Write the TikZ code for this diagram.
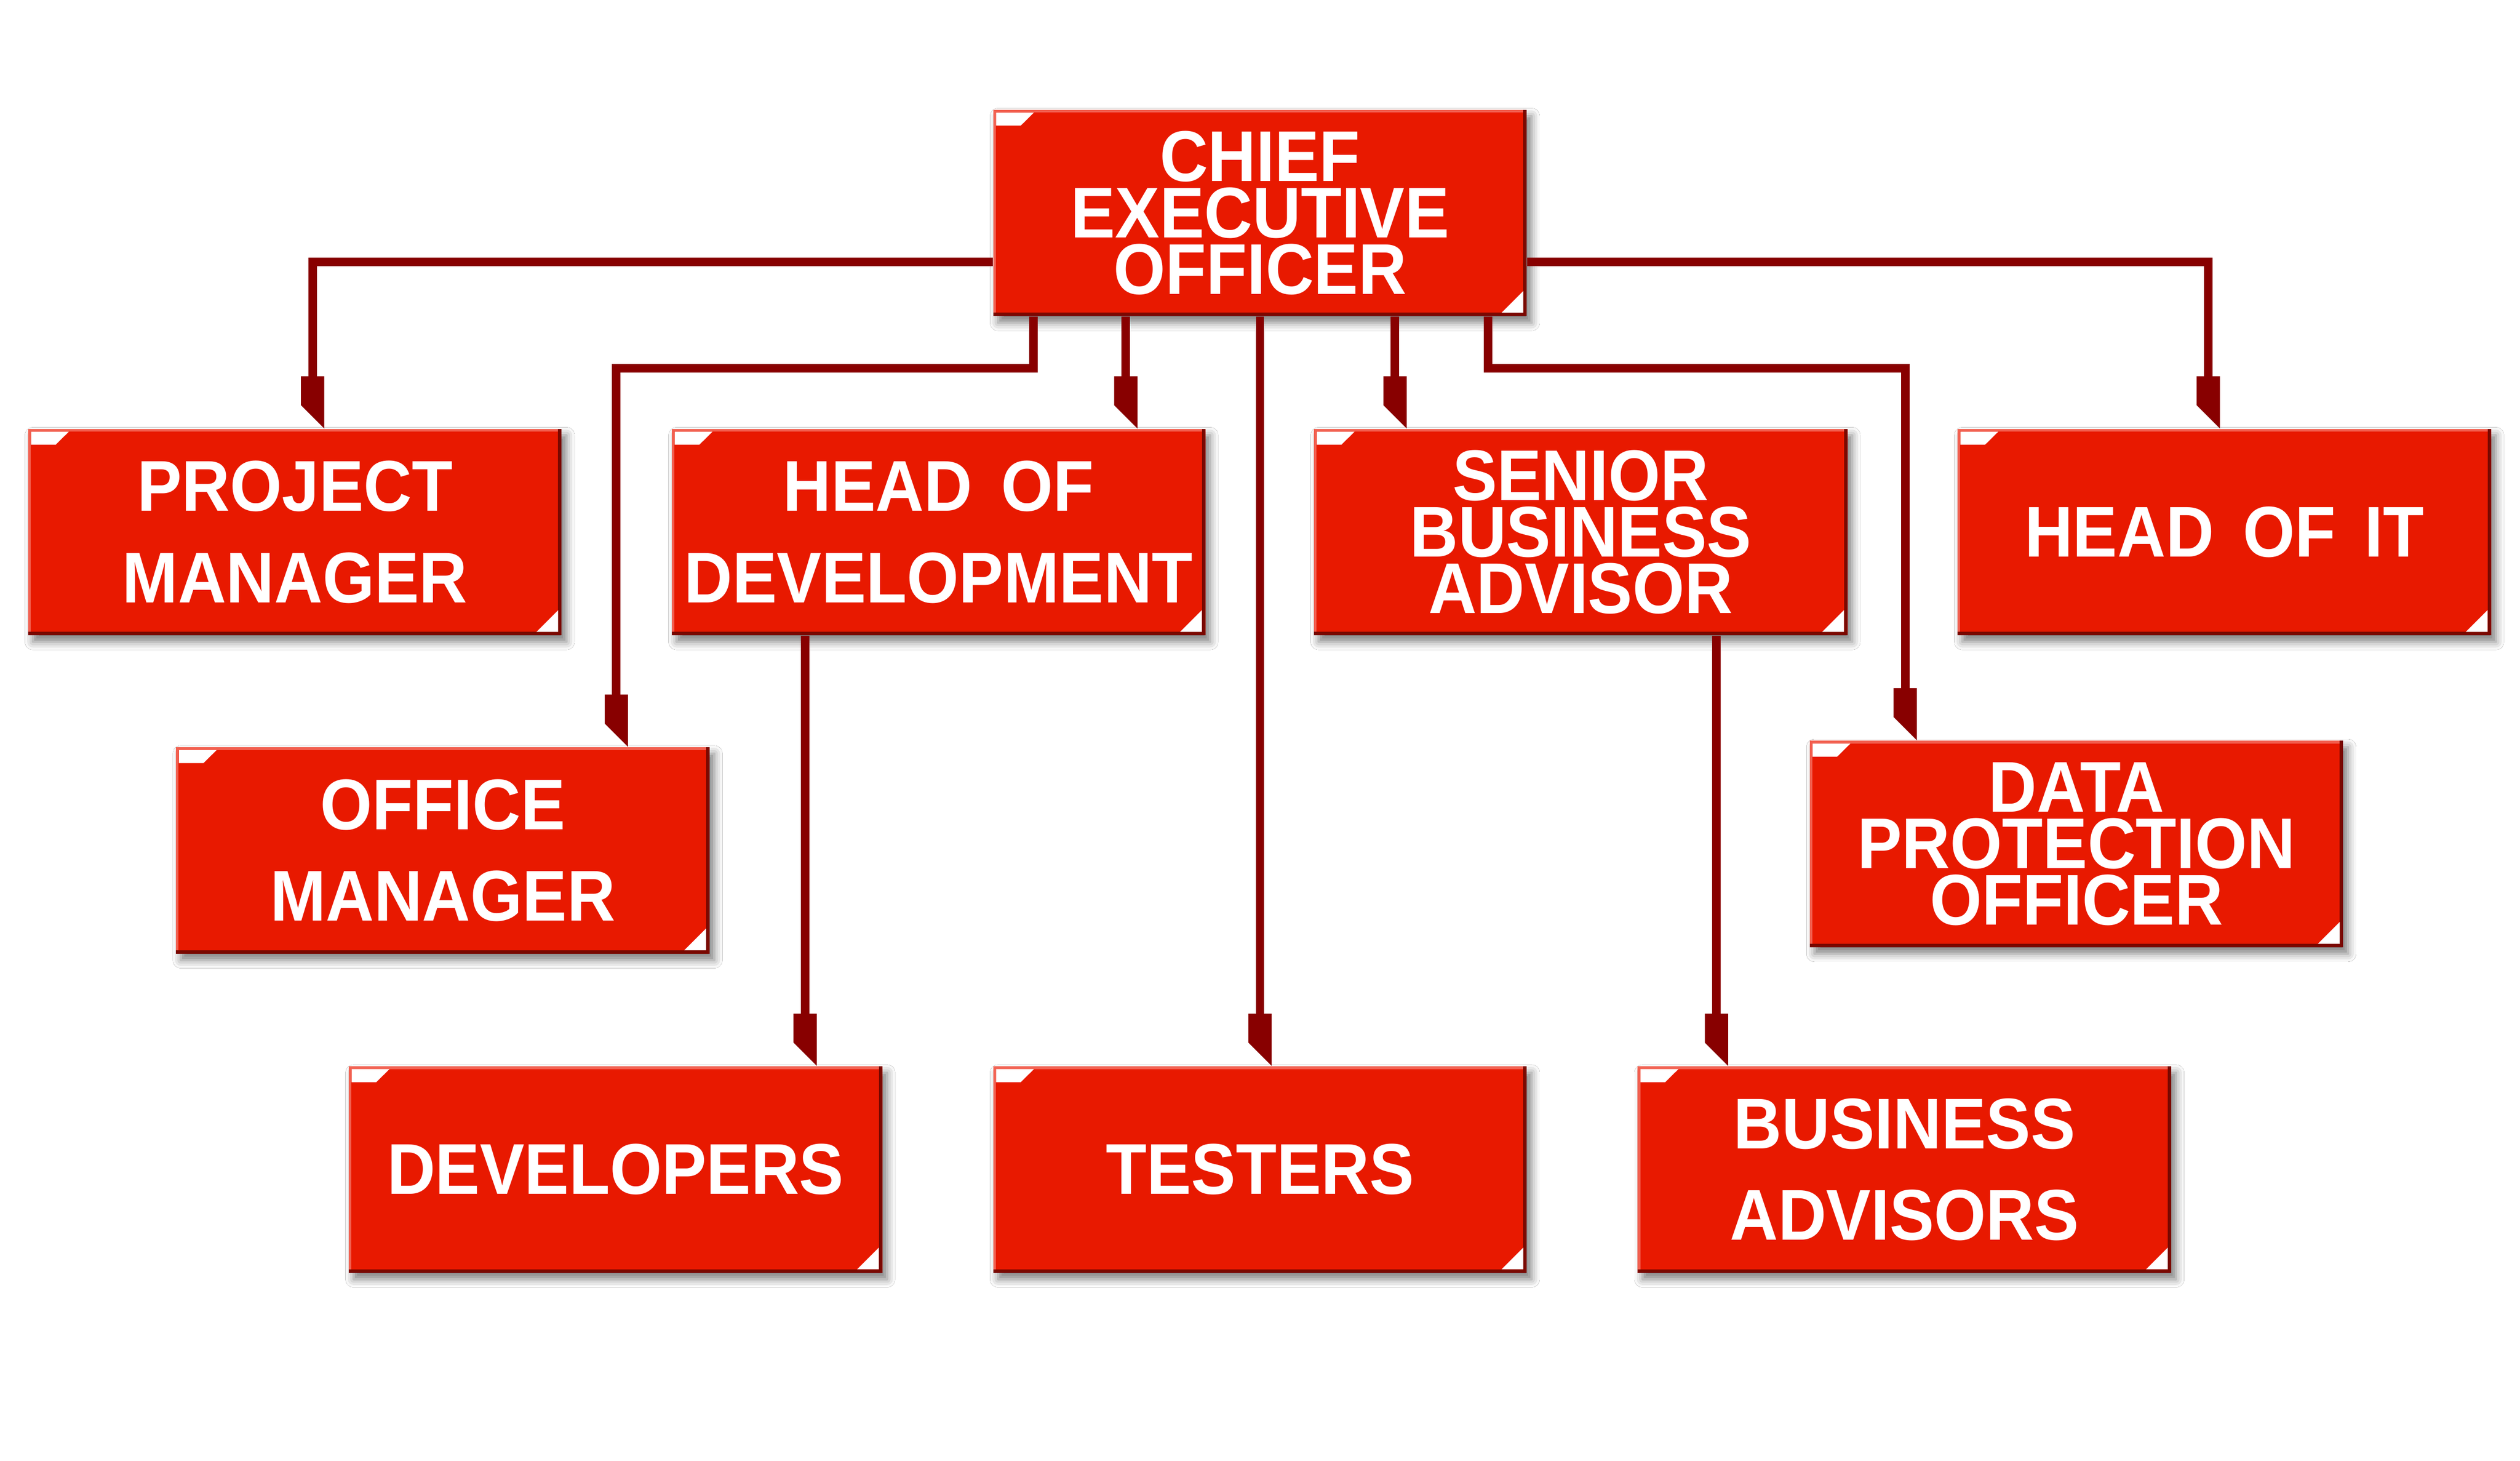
\documentclass[tikz,border=0pt]{standalone}
\usepackage{fontspec}
\newfontfamily\orgfont{Liberation Sans}[FakeStretch=0.93]
\usetikzlibrary{shadows.blur}

\definecolor{boxred}{RGB}{232,25,0}
\definecolor{linered}{RGB}{136,0,0}
\definecolor{edgelight}{RGB}{242,96,80}
\definecolor{edgedark}{RGB}{122,8,0}

\newcommand\orgwordspace{\spaceskip=18pt\relax}

\pgfdeclarearrow{
  name = OrgTip,
  setup code = {
    \pgfarrowssettipend{0pt}
    \pgfarrowssetlineend{-18pt}
    \pgfarrowssetvisualbackend{-32.5pt}
    \pgfarrowssetbackend{-32.5pt}
  },
  drawing code = {
    \pgfpathmoveto{\pgfqpoint{-32.5pt}{-7.25pt}}
    \pgfpathlineto{\pgfqpoint{-14.5pt}{-7.25pt}}
    \pgfpathlineto{\pgfqpoint{0pt}{7.25pt}}
    \pgfpathlineto{\pgfqpoint{-32.5pt}{7.25pt}}
    \pgfpathclose
    \pgfusepathqfill
  },
}

\tikzset{
  orgbox/.style={rectangle, fill=boxred, minimum width=332pt, minimum height=128.5pt,
    inner sep=0pt, align=center, text=white,
    blur shadow={shadow xshift=3pt, shadow yshift=-4pt, shadow blur radius=5pt, shadow opacity=50},
    path picture={
      \fill[edgelight] (path picture bounding box.north west) rectangle ([yshift=-1.8pt]path picture bounding box.north east);
      \fill[edgelight] (path picture bounding box.north west) rectangle ([xshift=1.6pt]path picture bounding box.south west);
      \fill[edgedark] ([yshift=2.2pt]path picture bounding box.south west) rectangle (path picture bounding box.south east);
      \fill[edgedark] ([xshift=-2.2pt]path picture bounding box.north east) rectangle (path picture bounding box.south east);
      \fill[white] ([shift={(1.8pt,-1.8pt)}]path picture bounding box.north west) -- ++(23.5pt,0pt) -- ++(-8.2pt,-8.1pt) -- ++(-15.3pt,0pt) -- cycle;
      \fill[white] ([shift={(-2.2pt,2.2pt)}]path picture bounding box.south east) -- ++(0pt,13.5pt) -- ++(-13.5pt,-13.5pt) -- cycle;
    }},
  oneline/.style={font={\orgfont\bfseries\fontsize{44.7pt}{57pt}\selectfont\orgwordspace}},
  twoline/.style={font={\orgfont\bfseries\fontsize{44.7pt}{57pt}\selectfont\orgwordspace}},
  threeline/.style={font={\orgfont\bfseries\fontsize{44.7pt}{35pt}\selectfont\orgwordspace}},
  conn/.style={color=linered, line width=5.3pt, line cap=butt, line join=miter, -{OrgTip}},
}

\begin{document}
\begin{tikzpicture}[x=1pt,y=-1pt]
\useasboundingbox (0,0) rectangle (1568,908.6);
\fill[white] (0,0) rectangle (1568,908.6);

\node[orgbox, threeline] (ceo) at (784,132.5) {CHIEF\\EXECUTIVE\\OFFICER};
\node[orgbox, twoline] (pm) at (183.5,331) {PROJECT\\MANAGER};
\node[orgbox, twoline] (hod) at (584,331) {HEAD OF\\DEVELOPMENT};
\node[orgbox, threeline] (sba) at (983.5,331) {SENIOR\\BUSINESS\\ADVISOR};
\node[orgbox, oneline] (hoit) at (1384,331) {HEAD OF IT};
\node[orgbox, twoline] (om) at (275.5,529) {OFFICE\\MANAGER};
\node[orgbox, threeline] (dpo) at (1292,525) {DATA\\PROTECTION\\OFFICER};
\node[orgbox, oneline] (dev) at (383,727.5) {DEVELOPERS};
\node[orgbox, oneline] (tst) at (784,727.5) {TESTERS};
\node[orgbox, twoline] (ba) at (1185,727.5) {BUSINESS\\ADVISORS};

\draw[conn] ([yshift=-30.5pt]ceo.west) -| ([xshift=11pt]pm.north);
\draw[conn] ([yshift=-30.5pt]ceo.east) -| ([xshift=-10pt]hoit.north);
\draw[conn] ([xshift=-141pt]ceo.south) -- ++(0pt,-32.25pt) -| ([xshift=108pt]om.north);
\draw[conn] ([xshift=-83.5pt]ceo.south) -- ([xshift=116.5pt]hod.north);
\draw[conn] (ceo.south) -- (tst.north);
\draw[conn] ([xshift=84pt]ceo.south) -- ([xshift=-115.5pt]sba.north);
\draw[conn] ([xshift=142pt]ceo.south) -- ++(0pt,-32.25pt) -| ([xshift=-106.5pt]dpo.north);
\draw[conn] ([xshift=-83pt]hod.south) -- ([xshift=118pt]dev.north);
\draw[conn] ([xshift=84.5pt]sba.south) -- ([xshift=-117pt]ba.north);
\end{tikzpicture}
\end{document}
